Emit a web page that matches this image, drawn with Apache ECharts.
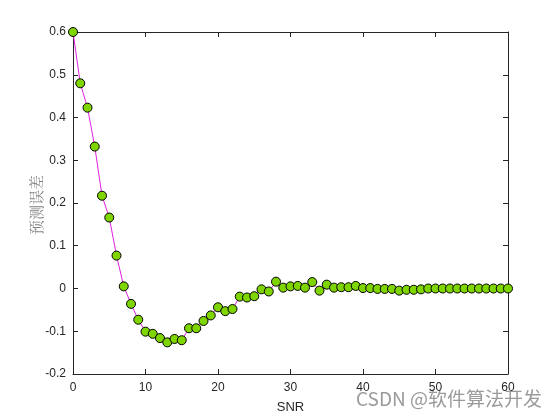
<!DOCTYPE html>
<html>
<head>
<meta charset="utf-8">
<script src="https://cdn.jsdelivr.net/npm/echarts@6/dist/echarts.min.js"></script>
<style>html,body{margin:0;padding:0;background:#fff;}#c{width:560px;height:420px;}</style>
</head>
<body>
<div id="c"></div>
<script>
var snr = [];
for (var i = 0; i <= 60; i++) snr.push(i);
var errValues = [
  0.600, 0.480, 0.423, 0.332, 0.217, 0.166, 0.077, 0.005, -0.036, -0.073,
  -0.101, -0.106, -0.116, -0.126, -0.118, -0.121, -0.093, -0.093, -0.076, -0.063,
  -0.044, -0.053, -0.048, -0.019, -0.021, -0.018, -0.002, -0.007, 0.016, 0.002,
  0.005, 0.006, 0.002, 0.015, -0.005, 0.009, 0.002, 0.003, 0.003, 0.006,
  0.001, 0.001, -0.001, -0.001, -0.001, -0.005, -0.003, -0.003, -0.002, 0.000,
  0.000, 0.000, 0.000, 0.000, 0.000, 0.000, 0.000, 0.000, 0.000, 0.000,
  0.000
];
var xTicks = [0, 10, 20, 30, 40, 50, 60];
var yTicks = [-0.2, -0.1, 0, 0.1, 0.2, 0.3, 0.4, 0.5, 0.6];
var yName = '预测误差';
var xName = 'SNR';

var pts = snr.map(function (x, i) { return [x, errValues[i]]; });
var chart = echarts.init(document.getElementById('c'), null, {renderer: 'canvas'});
var axisLine = {show: true, onZero: false, lineStyle: {color: '#262626', width: 1}};
var tick = {show: true, inside: true, length: 5, lineStyle: {color: '#262626', width: 1}};
var lblFont = {color: '#262626', fontSize: 12, fontFamily: 'Liberation Sans, Arial, sans-serif'};
chart.setOption({
  animation: false,
  backgroundColor: '#ffffff',
  grid: {left: 73, right: 52, top: 32, bottom: 46, containLabel: false},
  xAxis: [{
    type: 'value', min: 0, max: 60, interval: 10, position: 'bottom',
    axisLine: axisLine, axisTick: tick, splitLine: {show: false},
    axisLabel: Object.assign({margin: 8}, lblFont),
    name: xName, nameLocation: 'middle', nameGap: 27,
    nameTextStyle: {color: '#262626', fontSize: 13, fontFamily: 'Liberation Sans, Arial, sans-serif'}
  }, {
    type: 'value', min: 0, max: 60, interval: 10, position: 'top',
    axisLine: axisLine, axisTick: tick, splitLine: {show: false}, axisLabel: {show: false}
  }],
  yAxis: [{
    type: 'value', min: -0.2, max: 0.6, interval: 0.1, position: 'left',
    axisLine: axisLine, axisTick: tick, splitLine: {show: false},
    axisLabel: Object.assign({margin: 7, formatter: function (v) { return String(Math.round(v * 10) / 10); }}, lblFont)
  }, {
    type: 'value', min: -0.2, max: 0.6, interval: 0.1, position: 'right',
    axisLine: axisLine, axisTick: tick, splitLine: {show: false}, axisLabel: {show: false}
  }],
  series: [{
    type: 'line', xAxisIndex: 0, yAxisIndex: 0, data: pts,
    lineStyle: {color: '#e020e0', width: 1},
    symbol: 'circle', symbolSize: 9,
    itemStyle: {color: '#7fd500', borderColor: '#000000', borderWidth: 1},
    clip: false
  }],
  graphic: [{
    type: 'text', x: 36, y: 205, rotation: Math.PI / 2,
    style: {text: yName, fill: '#808080', fontSize: 15, align: 'center', verticalAlign: 'middle',
            fontFamily: 'Noto Serif CJK SC, Noto Sans CJK SC, serif'}
  }, {
    type: 'text', left: 356, top: 389,
    style: {text: 'CSDN @软件算法开发', fill: '#9a9a9a', fontSize: 19, fontFamily: 'Noto Sans CJK SC, sans-serif'}
  }]
});
</script>
</body>
</html>
